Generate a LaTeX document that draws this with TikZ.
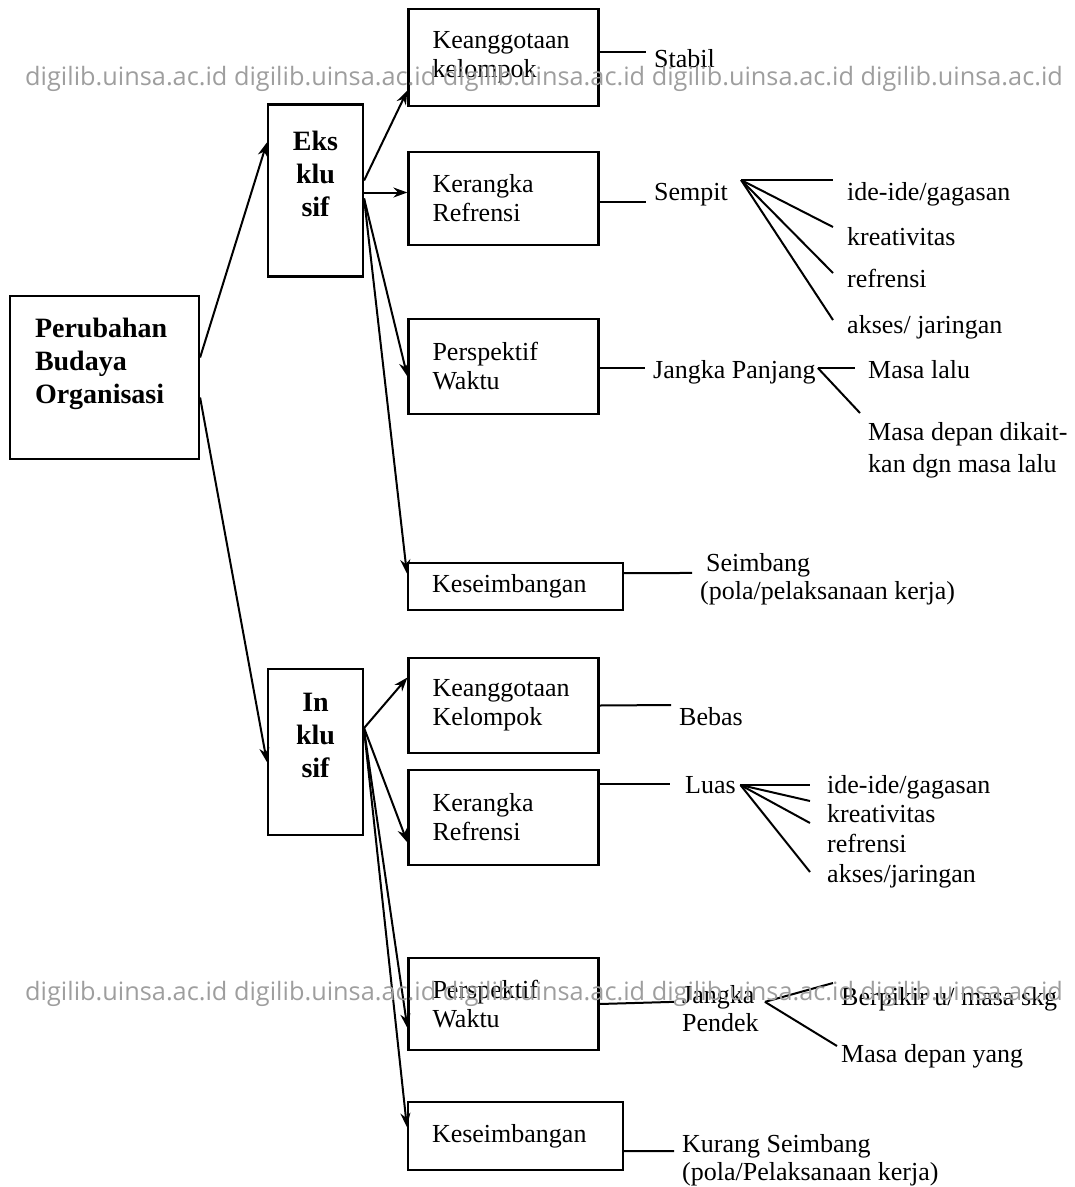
\documentclass[tikz,border=0pt]{standalone}
\usepackage{fontspec}
\setmainfont{Liberation Serif}
\newfontfamily\wmfont{Open Sans}
\usetikzlibrary{arrows.meta}
\tikzset{>={Stealth[length=14pt,width=10pt]}}
\tikzset{
  box/.style={draw, line width=2.2pt, align=left, text width=142pt, inner xsep=24pt, inner ysep=0pt, font=\fontsize{26}{29}\selectfont},
  widebox/.style={box, text width=167pt},
  bigbox/.style={draw, line width=2.2pt, inner ysep=0pt, font=\fontsize{28}{33}\selectfont\bfseries},
  lbl/.style={anchor=base west, inner xsep=8pt, inner ysep=0pt, text height=18pt, text depth=6pt, font=\fontsize{26}{29}\selectfont},
  lbls/.style={anchor=north west, align=left, inner xsep=8pt, inner ysep=0pt, font=\fontsize{26}{28}\selectfont},
  link/.style={->, line width=2pt},
  tie/.style={line width=2pt},
  wm/.style={anchor=base west, inner sep=0pt, text=black!38, font=\wmfont\fontsize{25.3}{30}\selectfont}
}

\begin{document}
\begin{tikzpicture}[x=1pt, y=-1pt]
    \useasboundingbox (0,0) rectangle (1075,1187);
    % left column
    \node[bigbox, align=left, text width=139pt, inner xsep=25pt, minimum height=163pt] (budaya) at (104.5,377.5) {Perubahan\\Budaya\\Organisasi\\\mbox{}};
    \node[bigbox, align=center, text width=95pt, inner xsep=0pt, minimum height=172pt] (eks) at (315.5,190.5) {Eks\\klu\\sif\\\mbox{}};
    \node[bigbox, align=center, text width=95pt, inner xsep=0pt, minimum height=166pt] (ink) at (315.5,752) {In\\klu\\sif\\\mbox{}};
    \draw[link] ([yshift=20pt]budaya.east) -- ([yshift=48pt]eks.west);
    \draw[link] ([yshift=-20pt]budaya.east) -- ([yshift=-10pt]ink.west);

    % eksklusif
    \node[box, minimum height=97pt] (k1) at (503.5,57.5) {Keanggotaan\\kelompok};
    \node[box, minimum height=93pt] (r1) at (503.5,198.5) {Kerangka\\Refrensi};
    \node[box, minimum height=95pt] (p1) at (503.5,366.5) {Perspektif\\Waktu};
    \node[widebox, minimum height=47pt] (s1) at (515.5,586.5) {Keseimbangan};
    \draw[link] ([yshift=10pt]eks.east) -- ([yshift=-33pt]k1.west);
    \draw[link] ([yshift=-2pt]eks.east) -- ([yshift=6pt]r1.west);
    \draw[link] ([yshift=-8pt]eks.east) -- ([yshift=-10pt]p1.west);
    \draw[link] ([yshift=-8pt]eks.east) -- ([yshift=13pt]s1.west);

    \node[lbl] (stabil) at (646,67) {Stabil};
    \draw[tie] ([yshift=5.5pt]k1.east) -- ([yshift=9pt]stabil.west);
    \node[lbl] (sempit) at (646,200) {Sempit};
    \draw[tie] ([yshift=-3.5pt]r1.east) -- ([yshift=-8pt]sempit.west);
    \coordinate (sempitfan) at ([xshift=5pt,yshift=14pt]sempit.east);
    \node[lbl] (ideA) at (839,200) {ide-ide/gagasan};
    \node[lbl] (kreA) at (839,245) {kreativitas};
    \node[lbl] (refA) at (839,287) {refrensi};
    \node[lbl] (aksA) at (839,333) {akses/ jaringan};
    \foreach \n/\s in {ideA/14,kreA/12,refA/8,aksA/7}
        \draw[tie] (sempitfan) -- ([xshift=-6pt,yshift=\s pt]\n.west);

    \node[lbl] (panjang) at (645,378) {Jangka Panjang};
    \draw[tie] ([yshift=-1.5pt]p1.east) -- ([yshift=4pt]panjang.west);
    \coordinate (panjangfan) at ([xshift=-6pt,yshift=4pt]panjang.east);
    \node[lbl] (masalalu) at (860,378) {Masa lalu};
    \node[lbls] (dikait) at (860,422) {Masa depan dikait-\\[4pt]kan dgn masa lalu};
    \draw[tie] (panjangfan) -- ([xshift=-5pt,yshift=4pt]masalalu.west);
    \draw[tie] (panjangfan) -- ([yshift=9pt]dikait.north west);

    \node[lbls] (seimbang) at (692,553) {\hspace*{6pt}Seimbang\\(pola/pelaksanaan kerja)};
    \draw[tie] ([yshift=13.5pt]s1.east) -- ([yshift=6pt]seimbang.west);

    % inklusif
    \node[box, minimum height=95pt] (k2) at (503.5,705.5) {Keanggotaan\\Kelompok};
    \node[box, minimum height=95pt] (r2) at (503.5,817.5) {Kerangka\\Refrensi};
    \node[box, minimum height=92pt] (p2) at (503.5,1004) {Perspektif\\Waktu};
    \node[widebox, minimum height=68pt] (s2) at (515.5,1136) {Keseimbangan};
    \draw[link] ([yshift=24pt]ink.east) -- ([yshift=28pt]k2.west);
    \draw[link] ([yshift=24pt]ink.east) -- ([yshift=-25pt]r2.west);
    \draw[link] ([yshift=22pt]ink.east) -- ([yshift=-24pt]p2.west);
    \draw[link] ([yshift=22pt]ink.east) -- ([yshift=9pt]s2.west);

    \node[lbl] (bebas) at (671,725) {Bebas};
    \draw[tie] (k2.east) -- ([yshift=14pt]bebas.west);
    \node[lbl] (luas) at (677,793) {Luas};
    \draw[tie] ([yshift=33.5pt]r2.east) -- ([xshift=-7pt,yshift=3pt]luas.west);
    \coordinate (luasfan) at ([xshift=-3.5pt,yshift=2pt]luas.east);
    \node[lbl] (ideB) at (819,793) {ide-ide/gagasan};
    \node[lbl] (kreB) at (819,822) {kreativitas};
    \node[lbl] (refB) at (819,852) {refrensi};
    \node[lbl] (aksB) at (819,882) {akses/jaringan};
    \foreach \n/\s in {ideB/2,kreB/15,refB/23,aksB/4}
        \draw[tie] (luasfan) -- ([xshift=-9pt,yshift=\s pt]\n.west);

    \node[lbls] (pendek) at (674,985) {Jangka\\Pendek};
    \draw[tie] (p2.east) -- ([yshift=6.5pt]pendek.west);
    \coordinate (pendekfan) at ([xshift=-2pt,yshift=6.5pt]pendek.east);
    \node[lbl] (berpikir) at (833,1005) {Berpikir u/ masa skg};
    \node[lbl] (masayang) at (833,1062) {Masa depan yang};
    \draw[tie] (pendekfan) -- ([yshift=16pt]berpikir.west);
    \draw[tie] (pendekfan) -- ([xshift=4pt,yshift=10pt]masayang.west);

    \node[lbls] (kurang) at (674,1134) {Kurang Seimbang\\(pola/Pelaksanaan kerja)};
    \draw[tie] ([yshift=-15pt]s2.east) -- ([yshift=9pt]kurang.west);

    % watermark of the scan
    \node[wm] (wmA) at (25,85) {digilib.uinsa.ac.id digilib.uinsa.ac.id digilib.uinsa.ac.id digilib.uinsa.ac.id digilib.uinsa.ac.id};
    \node[wm] (wmB) at (25,1000) {digilib.uinsa.ac.id digilib.uinsa.ac.id digilib.uinsa.ac.id digilib.uinsa.ac.id digilib.uinsa.ac.id};
\end{tikzpicture}
\end{document}
